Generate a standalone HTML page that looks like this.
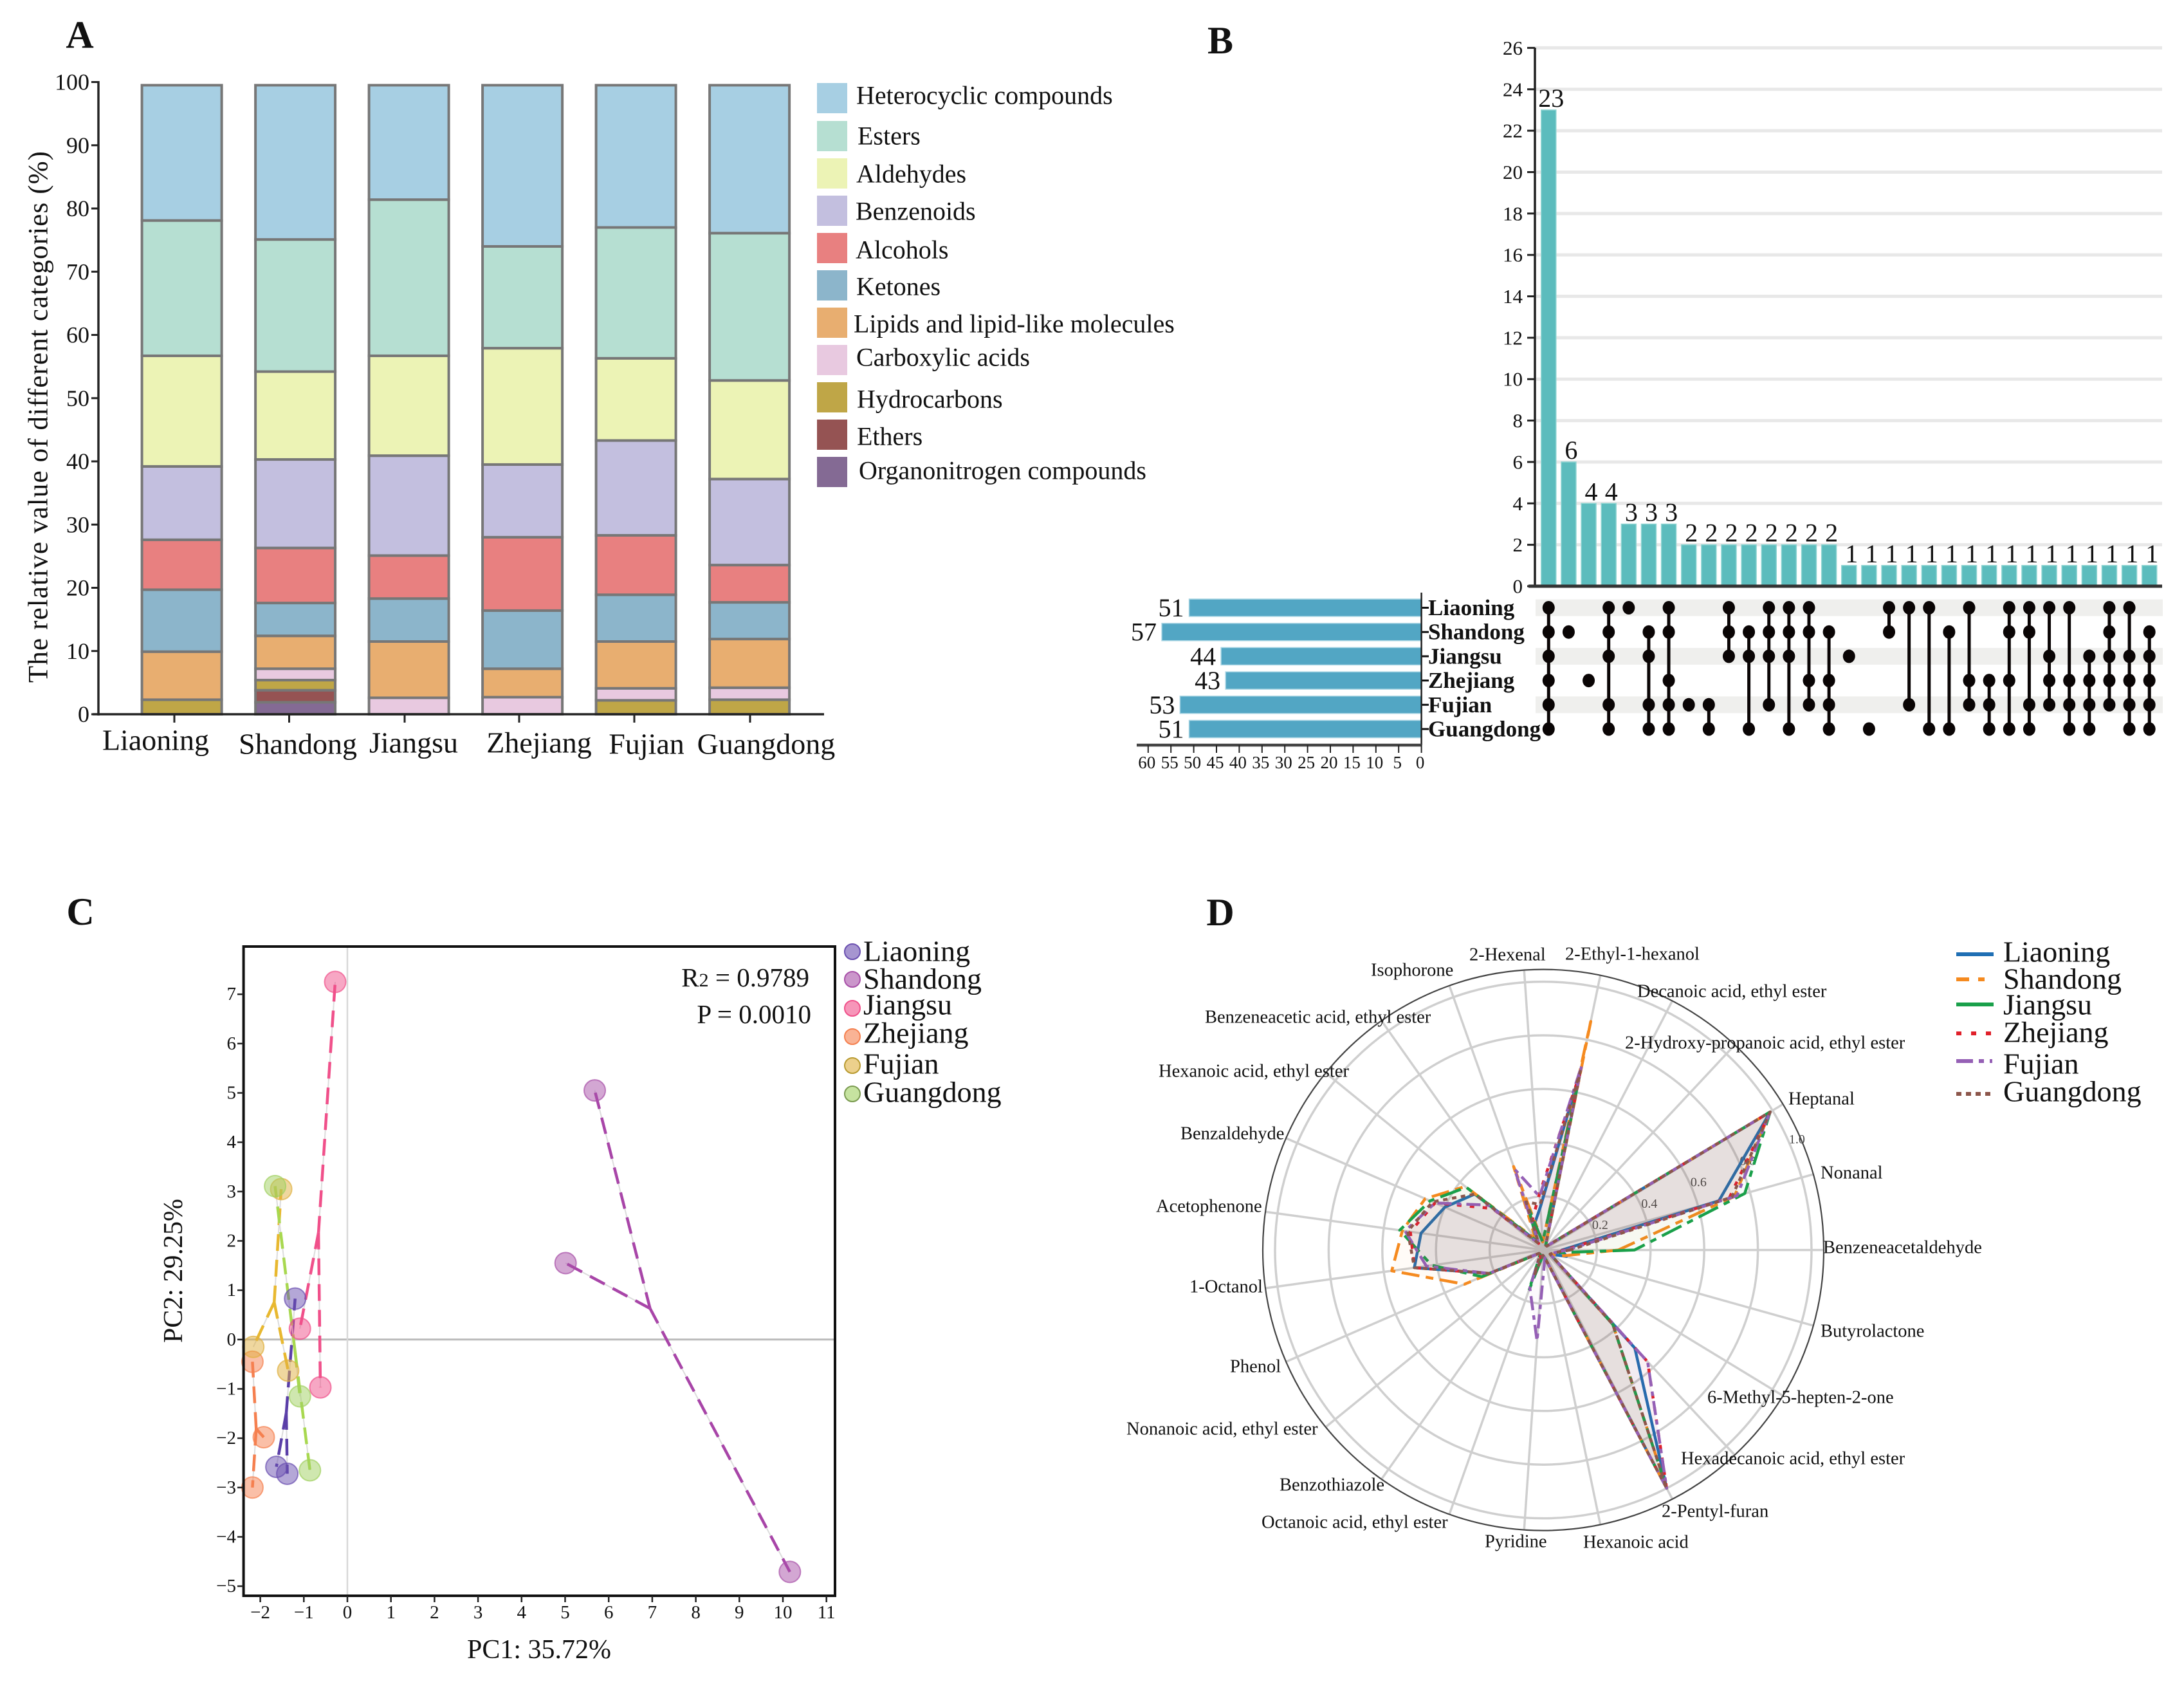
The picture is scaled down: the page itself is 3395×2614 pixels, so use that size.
<!DOCTYPE html>
<html lang="en">
<head>
<meta charset="utf-8">
<title>Volatile compound composition across six regions</title>
<style>
html,body{margin:0;padding:0;background:#fff;}
body{width:3395px;height:2614px;overflow:hidden;}
svg{display:block;position:absolute;left:0;top:0;}
text{font-family:"Liberation Serif",serif;fill:#111;}
</style>
</head>
<body>
<svg id="figure" xmlns="http://www.w3.org/2000/svg" width="3395" height="2614" viewBox="0 0 3395 2614">
<rect width="3395" height="2614" fill="#fff"/>

<text x="124" y="54" font-size="60" font-weight="bold" text-anchor="middle" dominant-baseline="central">A</text>
<text x="1897" y="63" font-size="60" font-weight="bold" text-anchor="middle" dominant-baseline="central">B</text>
<text x="125" y="1417" font-size="60" font-weight="bold" text-anchor="middle" dominant-baseline="central">C</text>
<text x="1897" y="1418" font-size="60" font-weight="bold" text-anchor="middle" dominant-baseline="central">D</text>

<g id="panel-a"></g>
<g font-size="46">
<text font-size="43" transform="translate(60,648) rotate(-90)" text-anchor="middle" dominant-baseline="central" textLength="826" lengthAdjust="spacing">The relative value of different categories (%)</text>
<text x="242" y="1150" text-anchor="middle" dominant-baseline="central">Liaoning</text>
<text x="463" y="1156" text-anchor="middle" dominant-baseline="central">Shandong</text>
<text x="643" y="1154" text-anchor="middle" dominant-baseline="central">Jiangsu</text>
<text x="838" y="1154" text-anchor="middle" dominant-baseline="central">Zhejiang</text>
<text x="1005" y="1156" text-anchor="middle" dominant-baseline="central">Fujian</text>
<text x="1191" y="1156" text-anchor="middle" dominant-baseline="central">Guangdong</text>
</g>
<g font-size="40">
<rect x="1270" y="129" width="47" height="47" fill="#a7cfe3"/><text x="1331" y="148" dominant-baseline="central">Heterocyclic compounds</text>
<rect x="1270" y="188" width="47" height="47" fill="#b6dfd2"/><text x="1333" y="211" dominant-baseline="central">Esters</text>
<rect x="1270" y="246" width="47" height="47" fill="#ecf3b5"/><text x="1331" y="270" dominant-baseline="central">Aldehydes</text>
<rect x="1270" y="304" width="47" height="47" fill="#c3bfdf"/><text x="1330" y="328" dominant-baseline="central">Benzenoids</text>
<rect x="1270" y="362" width="47" height="47" fill="#e88080"/><text x="1330" y="388" dominant-baseline="central">Alcohols</text>
<rect x="1270" y="420" width="47" height="47" fill="#8cb5cb"/><text x="1331" y="445" dominant-baseline="central">Ketones</text>
<rect x="1270" y="478" width="47" height="47" fill="#e8ae70"/><text x="1327" y="503" dominant-baseline="central">Lipids and lipid-like molecules</text>
<rect x="1270" y="536" width="47" height="47" fill="#e8c9e0"/><text x="1331" y="555" dominant-baseline="central">Carboxylic acids</text>
<rect x="1270" y="594" width="47" height="47" fill="#bfa647"/><text x="1332" y="620" dominant-baseline="central">Hydrocarbons</text>
<rect x="1270" y="652" width="47" height="47" fill="#955353"/><text x="1332" y="678" dominant-baseline="central">Ethers</text>
<rect x="1270" y="710" width="47" height="47" fill="#846a94"/><text x="1335" y="731" dominant-baseline="central">Organonitrogen compounds</text>
</g>

<g id="panel-b"></g>

<g id="panel-c"></g>
<g>
<text x="1258" y="1519" font-size="41" text-anchor="end" dominant-baseline="central">R<tspan font-size="30" dy="4">2</tspan><tspan dy="-4"> = 0.9789</tspan></text>
<text x="1261" y="1576" font-size="41" text-anchor="end" dominant-baseline="central">P = 0.0010</text>
<text x="838" y="2564" font-size="42" text-anchor="middle" dominant-baseline="central">PC1: 35.72%</text>
<text transform="translate(270,1975) rotate(-90)" font-size="42" text-anchor="middle" dominant-baseline="central">PC2: 29.25%</text>
</g>
<g font-size="46">
<circle cx="1325" cy="1479" r="12" fill="#6a4fb0" fill-opacity=".6" stroke="#6a4fb0" stroke-width="2"/><text x="1342" y="1478" dominant-baseline="central">Liaoning</text>
<circle cx="1325" cy="1522" r="12" fill="#a850a8" fill-opacity=".6" stroke="#a850a8" stroke-width="2"/><text x="1342" y="1521" dominant-baseline="central">Shandong</text>
<circle cx="1325" cy="1567" r="12" fill="#f0508a" fill-opacity=".6" stroke="#f0508a" stroke-width="2"/><text x="1342" y="1561" dominant-baseline="central">Jiangsu</text>
<circle cx="1325" cy="1611" r="12" fill="#f5804f" fill-opacity=".6" stroke="#f5804f" stroke-width="2"/><text x="1342" y="1605" dominant-baseline="central">Zhejiang</text>
<circle cx="1325" cy="1656" r="12" fill="#e0b040" fill-opacity=".6" stroke="#b89a30" stroke-width="2"/><text x="1342" y="1653" dominant-baseline="central">Fujian</text>
<circle cx="1325" cy="1700" r="12" fill="#a0d060" fill-opacity=".6" stroke="#7a9a50" stroke-width="2"/><text x="1342" y="1697" dominant-baseline="central">Guangdong</text>
</g>

<g id="panel-d"></g>
<g font-size="28.5">
<text x="2780" y="1708" dominant-baseline="central">Heptanal</text>
<text x="2830" y="1823" dominant-baseline="central">Nonanal</text>
<text x="2834" y="1939" dominant-baseline="central">Benzeneacetaldehyde</text>
<text x="2830" y="2069" dominant-baseline="central">Butyrolactone</text>
<text x="2654" y="2172" dominant-baseline="central">6-Methyl-5-hepten-2-one</text>
<text x="2613" y="2267" dominant-baseline="central">Hexadecanoic acid, ethyl ester</text>
<text x="2583" y="2349" dominant-baseline="central">2-Pentyl-furan</text>
<text x="2461" y="2397" dominant-baseline="central">Hexanoic acid</text>
<text x="2308" y="2396" dominant-baseline="central">Pyridine</text>
<text x="1961" y="2366" dominant-baseline="central">Octanoic acid, ethyl ester</text>
<text x="1989" y="2308" dominant-baseline="central">Benzothiazole</text>
<text x="1751" y="2221" dominant-baseline="central">Nonanoic acid, ethyl ester</text>
<text x="1912" y="2124" dominant-baseline="central">Phenol</text>
<text x="1849" y="2000" dominant-baseline="central">1-Octanol</text>
<text x="1797" y="1875" dominant-baseline="central">Acetophenone</text>
<text x="1835" y="1762" dominant-baseline="central">Benzaldehyde</text>
<text x="1801" y="1665" dominant-baseline="central">Hexanoic acid, ethyl ester</text>
<text x="1873" y="1581" dominant-baseline="central">Benzeneacetic acid, ethyl ester</text>
<text x="2131" y="1508" dominant-baseline="central">Isophorone</text>
<text x="2284" y="1484" dominant-baseline="central">2-Hexenal</text>
<text x="2433" y="1483" dominant-baseline="central">2-Ethyl-1-hexanol</text>
<text x="2545" y="1541" dominant-baseline="central">Decanoic acid, ethyl ester</text>
<text x="2526" y="1621" dominant-baseline="central">2-Hydroxy-propanoic acid, ethyl ester</text>
</g>
<g font-size="46">
<line x1="3041" x2="3099" y1="1483" y2="1483" stroke="#1f6fb4" stroke-width="6"/><text x="3114" y="1479" dominant-baseline="central">Liaoning</text>
<line x1="3041" x2="3099" y1="1522" y2="1522" stroke="#f58a1f" stroke-width="6" stroke-dasharray="20 14 10 14"/><text x="3114" y="1521" dominant-baseline="central">Shandong</text>
<line x1="3041" x2="3099" y1="1561" y2="1561" stroke="#1aa04a" stroke-width="6"/><text x="3114" y="1561" dominant-baseline="central">Jiangsu</text>
<line x1="3041" x2="3099" y1="1606" y2="1606" stroke="#e0202a" stroke-width="6" stroke-dasharray="8 15"/><text x="3114" y="1604" dominant-baseline="central">Zhejiang</text>
<line x1="3041" x2="3099" y1="1649" y2="1649" stroke="#9560b5" stroke-width="6" stroke-dasharray="26 9 8 9 4 9"/><text x="3114" y="1653" dominant-baseline="central">Fujian</text>
<line x1="3041" x2="3099" y1="1700" y2="1700" stroke="#8c564b" stroke-width="6" stroke-dasharray="8 7"/><text x="3114" y="1696" dominant-baseline="central">Guangdong</text>
</g>
</svg>

<script>
// ---------- Panel A data (percent, order: Liaoning, Shandong, Jiangsu, Zhejiang, Fujian, Guangdong)
const regionsA = ["Liaoning","Shandong","Jiangsu","Zhejiang","Fujian","Guangdong"];
const yTicksA = [0,10,20,30,40,50,60,70,80,90,100];
const organonitrogen = [0,1.9,0,0,0,0];
const ethers = [0,1.9,0,0,0,0];
const hydrocarbons = [2.3,1.6,0,0,2.2,2.3];
const carboxylicAcids = [0,1.8,2.6,2.7,1.9,1.9];
const lipids = [7.6,5.2,8.9,4.5,7.4,7.7];
const ketones = [9.8,5.2,6.8,9.2,7.4,5.8];
const alcohols = [7.9,8.7,6.8,11.6,9.4,5.9];
const benzenoids = [11.6,14,15.8,11.5,15,13.6];
const aldehydes = [17.5,13.9,15.8,18.4,13,15.6];
const esters = [21.4,20.9,24.7,16.1,20.7,23.3];
const heterocyclic = [21.4,24.4,18.1,25.5,22.5,23.4];

// ---------- Panel B data
const setNames = ["Liaoning","Shandong","Jiangsu","Zhejiang","Fujian","Guangdong"];
const setCodes = ["L","S","J","Z","F","G"];
const setSizes = [51,57,44,43,53,51];
const setAxisTicks = [60,55,50,45,40,35,30,25,20,15,10,5,0];
const intersectionTicks = [0,2,4,6,8,10,12,14,16,18,20,22,24,26];
const intersectionSizes = [23,6,4,4,3,3,3,2,2,2,2,2,2,2,2,1,1,1,1,1,1,1,1,1,1,1,1,1,1,1,1];
const intersectionSets = ["LSJZFG","S","Z","LSJFG","L","SJFG","LSZFG","F","FG","LSJ","SJG","LSJF","LSJG","LSZF","SZFG","J","G","LS","LF","LG","SG","LZF","ZFG","LSZG","LSFG","LJZF","LZFG","JZFG","LSJZF","LJZFG","SJZFG"];

// ---------- Panel C data
const pcaXTicks = [-2,-1,0,1,2,3,4,5,6,7,8,9,10,11];
const pcaYTicks = [-5,-4,-3,-2,-1,0,1,2,3,4,5,6,7];
const liaoningPC1 = [-1.2,-1.63,-1.38];
const liaoningPC2 = [0.83,-2.58,-2.72];
const shandongPC1 = [5.68,5.01,10.16];
const shandongPC2 = [5.05,1.55,-4.71];
const jiangsuPC1 = [-0.28,-1.09,-0.62];
const jiangsuPC2 = [7.25,0.22,-0.97];
const zhejiangPC1 = [-2.18,-1.92,-2.18];
const zhejiangPC2 = [-0.45,-1.98,-3.0];
const fujianPC1 = [-1.52,-2.16,-1.36];
const fujianPC2 = [3.05,-0.15,-0.63];
const guangdongPC1 = [-1.66,-1.09,-0.86];
const guangdongPC2 = [3.11,-1.15,-2.65];

// ---------- Panel D data (clockwise from Benzeneacetaldehyde)
const radarCompounds = ["Benzeneacetaldehyde","Butyrolactone","6-Methyl-5-hepten-2-one","Hexadecanoic acid, ethyl ester","2-Pentyl-furan","Hexanoic acid","Pyridine","Octanoic acid, ethyl ester","Benzothiazole","Nonanoic acid, ethyl ester","Phenol","1-Octanol","Acetophenone","Benzaldehyde","Hexanoic acid, ethyl ester","Benzeneacetic acid, ethyl ester","Isophorone","2-Hexenal","2-Ethyl-1-hexanol","Decanoic acid, ethyl ester","2-Hydroxy-propanoic acid, ethyl ester","Heptanal","Nonanal"];
const radarTicks = [0.2,0.4,0.6,0.8,1.0];
const radarLiaoning = [.07,.09,.03,.50,1,.03,.02,.03,.02,.02,.22,.485,.46,.40,.33,.04,.10,.16,.68,.02,.02,.99,.68];
const radarShandong = [.28,.08,.03,.38,1,.03,.02,.03,.02,.02,.32,.57,.53,.48,.375,.05,.33,.03,.87,.02,.02,.99,.74];
const radarJiangsu = [.34,.04,.03,.38,1,.03,.02,.16,.02,.02,.25,.42,.54,.46,.37,.04,.165,.03,.66,.02,.02,.99,.78];
const radarZhejiang = [.08,.04,.03,.57,1,.03,.02,.03,.02,.02,.22,.485,.50,.44,.245,.03,.12,.21,.67,.02,.02,.99,.72];
const radarFujian = [.09,.04,.03,.57,1,.03,.34,.15,.02,.02,.22,.44,.52,.44,.265,.03,.32,.20,.70,.02,.02,.99,.75];
const radarGuangdong = [.10,.04,.03,.38,1,.03,.02,.10,.02,.02,.22,.485,.51,.45,.33,.03,.19,.17,.68,.02,.02,.99,.73];

const NS = "http://www.w3.org/2000/svg";
function make(parent, tag, attrs, txt) {
  const n = document.createElementNS(NS, tag);
  for (const k in attrs) n.setAttribute(k, attrs[k]);
  if (txt !== undefined) n.textContent = txt;
  parent.appendChild(n);
  return n;
}
let el;

// ================= Panel A =================
(function () {
  const g = document.getElementById("panel-a");
  const yA = v => 1110 - v / 100 * 982.5;
  const xA = i => 220.6 + 176.5 * i;
  const barW = 124;
  const tickX = [271, 449.5, 629, 807, 986, 1166];
  const stack = [
    ["organonitrogen", organonitrogen, "#846a94"],
    ["ethers", ethers, "#955353"],
    ["hydrocarbons", hydrocarbons, "#bfa647"],
    ["carboxylic-acids", carboxylicAcids, "#e8c9e0"],
    ["lipids", lipids, "#e8ae70"],
    ["ketones", ketones, "#8cb5cb"],
    ["alcohols", alcohols, "#e88080"],
    ["benzenoids", benzenoids, "#c3bfdf"],
    ["aldehydes", aldehydes, "#ecf3b5"],
    ["esters", esters, "#b6dfd2"],
    ["heterocyclic", heterocyclic, "#a7cfe3"]
  ];
  regionsA.forEach((r, i) => {
    let base = 0;
    stack.forEach(s => {
      const v = s[1][i];
      if (v > 0) {
        el = make(g, "rect", {x: xA(i), y: yA(base + v), width: barW, height: yA(base) - yA(base + v), fill: s[2], stroke: "#777", "stroke-width": 4});
        
        
      }
      base += v;
    });
    el = make(g, "line", {x1: tickX[i], x2: tickX[i], y1: 1110, y2: 1123, stroke: "#222", "stroke-width": 3});
    
    
  });
  el = make(g, "line", {x1: 153, x2: 153, y1: 126, y2: 1112, stroke: "#222", "stroke-width": 3.5});
  
  
  el = make(g, "line", {x1: 144, x2: 1281, y1: 1110, y2: 1110, stroke: "#222", "stroke-width": 3.5});
  
  
  yTicksA.forEach(t => {
    el = make(g, "line", {x1: 142, x2: 153, y1: yA(t), y2: yA(t), stroke: "#222", "stroke-width": 3});
    
    
    el = make(g, "text", {x: 139, y: yA(t), "font-size": 36, "text-anchor": "end", "dominant-baseline": "central"}, t);
    
    
  });
})();

// ================= Panel B =================
(function () {
  const g = document.getElementById("panel-b");
  const yB = v => 911 - v / 26 * 836.6;
  const colX = i => 2407.3 + 31.13 * i;
  const rowY = i => 944.5 + 37.7 * i;
  const xS = v => 2209.6 - v * 7.08;

  intersectionTicks.forEach(t => {
    if (t > 0) {
      el = make(g, "line", {x1: 2386, x2: 3361, y1: yB(t), y2: yB(t), stroke: "#e8e8e8", "stroke-width": 5});
      
      
    }
    el = make(g, "line", {x1: 2374, x2: 2386, y1: yB(t), y2: yB(t), stroke: "#222", "stroke-width": 3});
    
    
    el = make(g, "text", {x: 2367, y: yB(t), "font-size": 31, "text-anchor": "end", "dominant-baseline": "central"}, t);
    
    
  });
  [0, 2, 4].forEach(r => {
    el = make(g, "rect", {x: 2387, y: rowY(r) - 13, width: 975, height: 26, fill: "#efefed"});
    
    
  });
  intersectionSizes.forEach((v, i) => {
    el = make(g, "rect", {x: colX(i) - 11.5, y: yB(v), width: 23, height: 911 - yB(v), fill: "#5cbcbd", stroke: "#8fd4d2", "stroke-width": 1.5});
    
    
    el = make(g, "text", {x: colX(i) + 4, y: yB(v) - 5, "font-size": 40, "text-anchor": "middle"}, v);
    
    
    const rows = intersectionSets[i].split("").map(c => setCodes.indexOf(c));
    const lo = Math.min.apply(null, rows), hi = Math.max.apply(null, rows);
    if (hi > lo) {
      el = make(g, "line", {x1: colX(i), x2: colX(i), y1: rowY(lo), y2: rowY(hi), stroke: "#0a0505", "stroke-width": 5});
      
      
    }
    rows.forEach(r => {
      el = make(g, "ellipse", {cx: colX(i), cy: rowY(r), rx: 9.5, ry: 10.5, fill: "#0a0505"});
      
      
    });
  });
  el = make(g, "line", {x1: 2386, x2: 2386, y1: 74, y2: 911, stroke: "#222", "stroke-width": 3.5});
  
  
  el = make(g, "line", {x1: 2376, x2: 3361, y1: 911, y2: 911, stroke: "#333", "stroke-width": 5});
  
  

  setSizes.forEach((v, r) => {
    el = make(g, "rect", {x: xS(v), y: rowY(r) - 13.5, width: 2209.6 - xS(v), height: 27, fill: "#52a6c4", stroke: "#a9d5e4", "stroke-width": 1.5});
    
    
    el = make(g, "text", {x: xS(v) - 8, y: rowY(r), "font-size": 40, "text-anchor": "end", "dominant-baseline": "central"}, v);
    
    
    el = make(g, "line", {x1: 2209.6, x2: 2221, y1: rowY(r), y2: rowY(r), stroke: "#111", "stroke-width": 3});
    
    
    el = make(g, "text", {x: 2220, y: rowY(r), "font-size": 35, "font-weight": "bold", "dominant-baseline": "central"}, setNames[r]);
    
    
  });
  el = make(g, "line", {x1: 2209.6, x2: 2209.6, y1: 921, y2: 1158, stroke: "#222", "stroke-width": 2.5});
  
  
  el = make(g, "line", {x1: 1767, x2: 2210, y1: 1158, y2: 1158, stroke: "#444", "stroke-width": 4.5});
  
  
  setAxisTicks.forEach(t => {
    el = make(g, "line", {x1: xS(t), x2: xS(t), y1: 1158, y2: 1170, stroke: "#222", "stroke-width": 2});
    
    
    el = make(g, "text", {x: xS(t) - 2, y: 1185, "font-size": 27, "text-anchor": "middle", "dominant-baseline": "central"}, t);
    
    
  });
})();

// ================= Panel C =================
(function () {
  const g = document.getElementById("panel-c");
  const xC = v => 540 + 67.7 * v;
  const yC = v => 2081.8 - 76.66 * v;
  const mean = a => a.reduce((s, v) => s + v, 0) / a.length;
  const fmt = t => (t < 0 ? "\u2212" + (-t) : "" + t);
  const groups = [
    ["liaoning", liaoningPC1, liaoningPC2, "#5b3fa8", "#6a4fb0"],
    ["shandong", shandongPC1, shandongPC2, "#a845a8", "#a850a8"],
    ["jiangsu", jiangsuPC1, jiangsuPC2, "#f0508a", "#f0508a"],
    ["zhejiang", zhejiangPC1, zhejiangPC2, "#f58050", "#f5804f"],
    ["fujian", fujianPC1, fujianPC2, "#e8b830", "#e0b040"],
    ["guangdong", guangdongPC1, guangdongPC2, "#a8d850", "#a0d060"]
  ];
  el = make(g, "line", {x1: 378, x2: 1298, y1: yC(0), y2: yC(0), stroke: "#bbb", "stroke-width": 3});
  
  
  el = make(g, "line", {x1: xC(0), x2: xC(0), y1: 1471, y2: 2480, stroke: "#d8d8d8", "stroke-width": 2.5});
  
  

  groups.forEach(G => {
    const cx = mean(G[1]), cy = mean(G[2]);
    G[1].forEach((v, i) => {
      el = make(g, "line", {x1: xC(cx), y1: yC(cy), x2: xC(v), y2: yC(G[2][i]), stroke: "#dcdcdc", "stroke-width": 2});
      
      
      el = make(g, "line", {x1: xC(cx), y1: yC(cy), x2: xC(v), y2: yC(G[2][i]), stroke: G[3], "stroke-width": 4.5, "stroke-dasharray": "26 14"});
      
      
    });
  });
  groups.forEach(G => {
    G[1].forEach((v, i) => {
      el = make(g, "circle", {cx: xC(v), cy: yC(G[2][i]), r: 16.5, fill: G[4], "fill-opacity": .5, stroke: G[4], "stroke-opacity": .7, "stroke-width": 2});
      
      
    });
  });
  el = make(g, "rect", {x: 378.6, y: 1471, width: 919.4, height: 1009, fill: "none", stroke: "#111", "stroke-width": 4});
  
  
  pcaXTicks.forEach(t => {
    el = make(g, "line", {x1: xC(t), x2: xC(t), y1: 2480, y2: 2490, stroke: "#222", "stroke-width": 2.5});
    
    
    el = make(g, "text", {x: xC(t), y: 2506, "font-size": 29, "text-anchor": "middle", "dominant-baseline": "central"}, fmt(t));
    
    
  });
  pcaYTicks.forEach(t => {
    el = make(g, "line", {x1: 369, x2: 378, y1: yC(t), y2: yC(t), stroke: "#222", "stroke-width": 2.5});
    
    
    el = make(g, "text", {x: 367, y: yC(t), "font-size": 29, "text-anchor": "end", "dominant-baseline": "central"}, fmt(t));
    
    
  });
})();

// ================= Panel D =================
(function () {
  const g = document.getElementById("panel-d");
  const cx = 2399, cy = 1942.6, unit = 417, outer = 436;
  const angle = k => k * 2 * Math.PI / radarCompounds.length;
  const px = (k, v) => cx + unit * v * Math.cos(angle(k));
  const py = (k, v) => cy + unit * v * Math.sin(angle(k));
  radarTicks.forEach(t => {
    el = make(g, "circle", {cx: cx, cy: cy, r: unit * t, fill: "none", stroke: "#cfcfcf", "stroke-width": 3.5});
    
    
  });
  radarCompounds.forEach((c, k) => {
    el = make(g, "line", {x1: cx, y1: cy, x2: px(k, outer / unit), y2: py(k, outer / unit), stroke: "#cfcfcf", "stroke-width": 3.5});
    
    
  });
  el = make(g, "circle", {cx: cx, cy: cy, r: outer, fill: "none", stroke: "#444", "stroke-width": 2.2});
  
  
  const lbl = 23.5 * Math.PI / 180;
  radarTicks.forEach(t => {
    const r = unit * t + 13;
    el = make(g, "text", {x: cx + r * Math.cos(lbl), y: cy - r * Math.sin(lbl), "font-size": 20, "text-anchor": "middle", "dominant-baseline": "central", style: "fill:#444"}, t.toFixed(1));
    
    
  });
  const series = [
    ["liaoning", radarLiaoning, "#1f6fb4", ""],
    ["shandong", radarShandong, "#f58a1f", "28 10 12 10"],
    ["jiangsu", radarJiangsu, "#1aa04a", "34 10 10 10"],
    ["zhejiang", radarZhejiang, "#e0202a", "7 13"],
    ["fujian", radarFujian, "#9560b5", "22 8 7 8"],
    ["guangdong", radarGuangdong, "#8c564b", "7 7"]
  ];
  series.forEach(s => {
    const pts = s[1].map((v, k) => px(k, v).toFixed(1) + "," + py(k, v).toFixed(1)).join(" ");
    el = make(g, "polygon", {points: pts, fill: s[2], "fill-opacity": .035, stroke: s[2], "stroke-width": 4.5, "stroke-dasharray": s[3], "stroke-linejoin": "round"});
    
    
  });
})();
</script>
</body>
</html>
